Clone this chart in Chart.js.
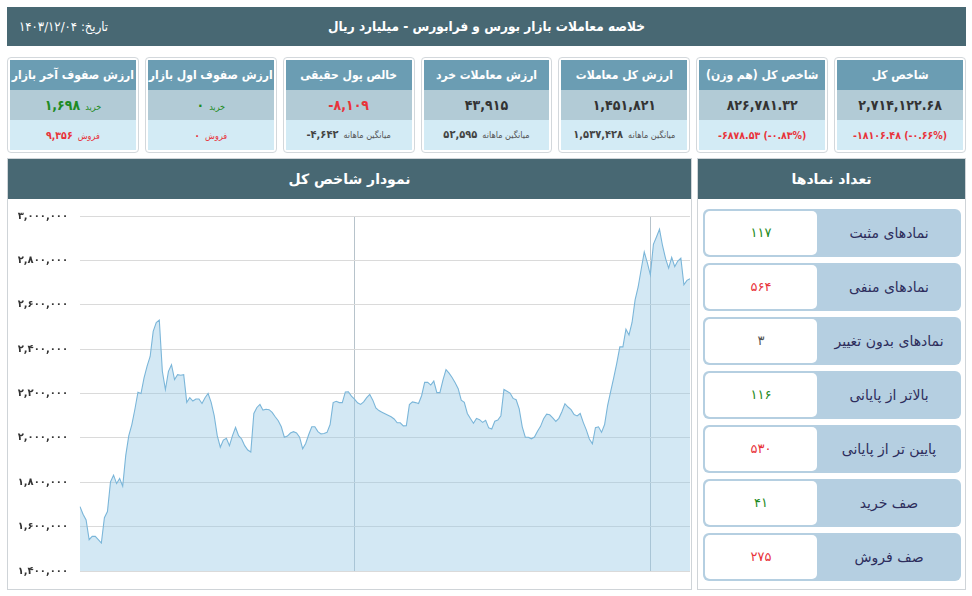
<!DOCTYPE html>
<html lang="fa">
<head>
<meta charset="utf-8">
<script src="https://cdn.jsdelivr.net/npm/chart.js@4.4.1/dist/chart.umd.min.js"></script>
<style>
  body { margin: 0; width: 972px; height: 596px; background: #fff; position: relative; overflow: hidden;
         font-family: "DejaVu Sans", sans-serif; }
  .cond { font-family: "DejaVu Sans Condensed", "DejaVu Sans", sans-serif; }
  .bar { background: #486873; color: #fff; }
  #topbar { position: absolute; left: 7px; top: 7px; width: 959px; height: 39px; }
  #topbar .title { position: absolute; left: 0; right: 0; top: 0; line-height: 39px; text-align: center;
                   font-size: 13.5px; font-weight: bold; direction: rtl; }
  #topbar .date { position: absolute; left: 12px; top: 0; line-height: 39px; font-size: 13px; direction: rtl; }

  #cards { position: absolute; left: 7px; top: 57px; width: 959px; height: 96px; display: flex; gap: 6px; direction: rtl; }
  .card { flex: 1; border: 1px solid #d3d8dc; border-radius: 4px; padding: 2px; box-sizing: border-box; height: 96px; min-width: 0; }
  .card div { height: 30px; line-height: 30px; text-align: center; white-space: nowrap; overflow: hidden; }
  .card .t { background: #6b9db3; color: #fff; font-weight: bold; font-size: 12px; }
  .card .v { background: #b2cbd6; color: #333; font-weight: bold; font-size: 14px; }
  .card .s { background: #d3ebf5; color: #444; font-weight: bold; font-size: 11px; }
  .card .s.red { font-size: 10.5px; }
  .card small { font-size: 9px; font-weight: normal; color: #555; margin-left: 5px; }
  .num { direction: ltr; unicode-bidi: isolate; }
  .red { color: #e8333a !important; }
  .green { color: #1f8b24 !important; }

  .panel { position: absolute; top: 158px; height: 432px; border: 1px solid #cfd4d8; box-sizing: border-box; }
  .panel .head { height: 40px; line-height: 40px; text-align: center; font-size: 14px; font-weight: bold; direction: rtl; }
  #chartPanel { left: 7px; width: 685px; }
  #sidePanel { left: 697px; width: 269px; }
  #chartBox { position: absolute; left: 8px; top: 198px; width: 683px; height: 391px; }

  .row { position: absolute; left: 703px; width: 258px; height: 48px; background: #b5cfe1; border-radius: 6px; }
  .row .val { position: absolute; left: 2px; top: 2px; bottom: 2px; width: 112px; background: #fff; border-radius: 5px;
              text-align: center; line-height: 44px; font-size: 13px; }
  .row .lab { position: absolute; left: 114px; right: 0; top: 0; line-height: 48px; text-align: center;
              font-size: 14px; color: #2d2d5c; direction: rtl; }
</style>
</head>
<body>
<div id="topbar" class="bar cond">
  <div class="title">خلاصه معاملات بازار بورس و فرابورس - میلیارد ریال</div>
  <div class="date">تاریخ: ۱۴۰۳/۱۲/۰۴</div>
</div>

<div id="cards" class="cond">
  <div class="card"><div class="t">شاخص کل</div><div class="v"><span class="num">۲,۷۱۴,۱۲۲.۶۸</span></div><div class="s red"><span class="num">-۱۸۱۰۶.۴۸ (-۰.۶۶%)</span></div></div>
  <div class="card"><div class="t">شاخص کل (هم وزن)</div><div class="v"><span class="num">۸۲۶,۷۸۱.۳۲</span></div><div class="s red"><span class="num">-۶۸۷۸.۵۳ (-۰.۸۳%)</span></div></div>
  <div class="card"><div class="t">ارزش کل معاملات</div><div class="v"><span class="num">۱,۴۵۱,۸۲۱</span></div><div class="s"><small>میانگین ماهانه</small><span class="num">۱,۵۳۷,۴۲۸</span></div></div>
  <div class="card"><div class="t">ارزش معاملات خرد</div><div class="v"><span class="num">۴۳,۹۱۵</span></div><div class="s"><small>میانگین ماهانه</small><span class="num">۵۲,۵۹۵</span></div></div>
  <div class="card"><div class="t">خالص پول حقیقی</div><div class="v red"><span class="num">-۸,۱۰۹</span></div><div class="s"><small>میانگین ماهانه</small><span class="num">-۴,۶۴۲</span></div></div>
  <div class="card"><div class="t">ارزش صفوف اول بازار</div><div class="v green"><small class="green">خرید</small><span class="num">۰</span></div><div class="s red"><small class="red">فروش</small><span class="num">۰</span></div></div>
  <div class="card"><div class="t">ارزش صفوف آخر بازار</div><div class="v green"><small class="green">خرید</small><span class="num">۱,۶۹۸</span></div><div class="s red"><small class="red">فروش</small><span class="num">۹,۳۵۶</span></div></div>
</div>

<div id="chartPanel" class="panel"><div class="head bar">نمودار شاخص کل</div></div>
<div id="chartBox"><canvas id="indexChart"></canvas></div>

<div id="sidePanel" class="panel"><div class="head bar">تعداد نمادها</div></div>
<div id="rows"></div>

<script>
// total index (شاخص کل), oldest first
const indexValues = [
  1690000, 1656000, 1630000, 1541000, 1556000, 1556000, 1541000, 1526000, 1640000, 1668000,
  1802000, 1832000, 1794000, 1817000, 1782000, 1921000, 2010000, 2060000, 2129000, 2206000,
  2200000, 2270000, 2323000, 2367000, 2480000, 2520000, 2531000, 2300000, 2218000, 2300000,
  2330000, 2263000, 2285000, 2282000, 2285000, 2160000, 2181000, 2166000, 2175000, 2175000,
  2155000, 2181000, 2200000, 2160000, 2100000, 2010000, 1958000, 1990000, 1998000, 1965000,
  2010000, 2047000, 2010000, 1995000, 1965000, 1945000, 1936000, 2110000, 2137000, 2151000,
  2125000, 2129000, 2127000, 2115000, 2095000, 2077000, 2050000, 2003000, 2008000, 2022000,
  2028000, 2022000, 2003000, 1951000, 1975000, 2015000, 2050000, 2050000, 2028000, 2018000,
  2020000, 2025000, 2060000, 2159000, 2165000, 2159000, 2159000, 2207000, 2208000, 2188000,
  2175000, 2158000, 2151000, 2162000, 2181000, 2196000, 2170000, 2135000, 2123000, 2116000,
  2109000, 2102000, 2095000, 2085000, 2068000, 2068000, 2054000, 2055000, 2150000, 2162000,
  2159000, 2155000, 2190000, 2250000, 2250000, 2238000, 2256000, 2204000, 2204000, 2260000,
  2308000, 2292000, 2272000, 2248000, 2222000, 2170000, 2160000, 2110000, 2087000, 2066000,
  2088000, 2082000, 2070000, 2079000, 2045000, 2040000, 2075000, 2080000, 2100000, 2218000,
  2210000, 2202000, 2178000, 2172000, 2131000, 2050000, 2003000, 2003000, 1996000, 2004000,
  2030000, 2052000, 2086000, 2107000, 2104000, 2090000, 2074000, 2088000, 2118000, 2154000,
  2139000, 2127000, 2105000, 2099000, 2110000, 2070000, 2036000, 1995000, 1973000, 2046000,
  2050000, 2025000, 2060000, 2147000, 2210000, 2272000, 2337000, 2410000, 2410000, 2490000,
  2464000, 2520000, 2622000, 2680000, 2760000, 2838000, 2790000, 2735000, 2872000, 2905000,
  2940000, 2866000, 2808000, 2765000, 2814000, 2772000, 2797000, 2810000, 2690000, 2710000, 2717000
];
const dayLabels = indexValues.map((_, i) => i);
// positions of the two vertical period lines
const periodMarks = [90, 187];

const yTickValues = [1400000, 1600000, 1800000, 2000000, 2200000, 2400000, 2600000, 2800000, 3000000];
const yTickLabels = ['۱,۴۰۰,۰۰۰', '۱,۶۰۰,۰۰۰', '۱,۸۰۰,۰۰۰', '۲,۰۰۰,۰۰۰', '۲,۲۰۰,۰۰۰', '۲,۴۰۰,۰۰۰', '۲,۶۰۰,۰۰۰', '۲,۸۰۰,۰۰۰', '۳,۰۰۰,۰۰۰'];

// symbol counts panel
const symbolNames = ['نمادهای مثبت', 'نمادهای منفی', 'نمادهای بدون تغییر', 'بالاتر از پایانی', 'پایین تر از پایانی', 'صف خرید', 'صف فروش'];
const symbolCounts = ['۱۱۷', '۵۶۴', '۳', '۱۱۶', '۵۳۰', '۴۱', '۲۷۵'];
const symbolTone = ['green', 'red', 'gray', 'green', 'red', 'green', 'red'];

const toneColor = { green: '#1f8b24', red: '#e8333a', gray: '#555' };
const rows = document.getElementById('rows');
symbolNames.forEach((name, i) => {
  const r = document.createElement('div');
  r.className = 'row';
  r.style.top = (209 + i * 54) + 'px';
  r.innerHTML = '<div class="val" style="color:' + toneColor[symbolTone[i]] + '">' + symbolCounts[i] + '</div>' +
                '<div class="lab">' + name + '</div>';
  rows.appendChild(r);
});

new Chart(document.getElementById('indexChart'), {
  type: 'line',
  data: {
    labels: dayLabels,
    datasets: [{
      data: indexValues,
      borderColor: '#7bb6d9',
      borderWidth: 1.1,
      backgroundColor: 'rgba(150, 200, 228, 0.42)',
      fill: 'start',
      pointRadius: 0,
      tension: 0
    }]
  },
  options: {
    responsive: true,
    maintainAspectRatio: false,
    animation: false,
    layout: { padding: { top: 15, bottom: 17, left: 0, right: 1 } },
    plugins: { legend: { display: false }, tooltip: { enabled: false } },
    scales: {
      x: {
        ticks: { display: false, autoSkip: false },
        border: { display: false },
        grid: {
          drawTicks: false,
          color: ctx => periodMarks.includes(ctx.index) ? '#b7c3cb' : 'rgba(0,0,0,0)'
        }
      },
      y: {
        min: 1400000,
        max: 3000000,
        afterFit: scale => { scale.width = 72; },
        afterBuildTicks: scale => { scale.ticks = yTickValues.map(v => ({ value: v })); },
        ticks: {
          padding: 12,
          color: '#333',
          font: { family: 'DejaVu Sans', size: 10, weight: 'bold' },
          callback: v => yTickLabels[yTickValues.indexOf(v)]
        },
        border: { display: false },
        grid: { drawTicks: false, color: '#dadada' }
      }
    }
  }
});
</script>
</body>
</html>
